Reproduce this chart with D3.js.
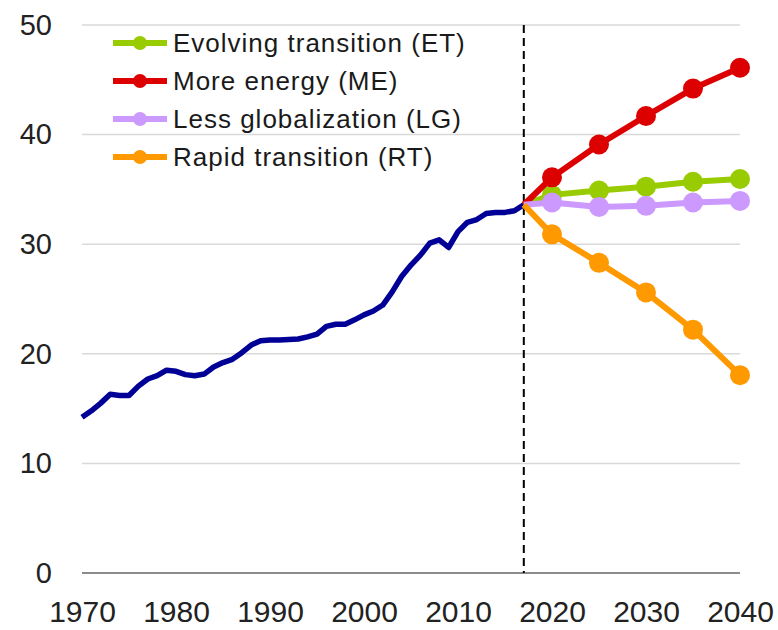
<!DOCTYPE html>
<html>
<head>
<meta charset="utf-8">
<script src="https://cdnjs.cloudflare.com/ajax/libs/d3/7.8.5/d3.min.js"></script>
<style>
	body { margin: 0; background: #ffffff; }
	svg { display: block; font-family: "Liberation Sans", Arial, sans-serif; }
</style>
</head>
<body>
<div id="chart"></div>
<script>
var historyYears = [1970, 1971, 1972, 1973, 1974, 1975, 1976, 1977, 1978, 1979,
	1980, 1981, 1982, 1983, 1984, 1985, 1986, 1987, 1988, 1989,
	1990, 1991, 1992, 1993, 1994, 1995, 1996, 1997, 1998, 1999,
	2000, 2001, 2002, 2003, 2004, 2005, 2006, 2007, 2008, 2009,
	2010, 2011, 2012, 2013, 2014, 2015, 2016, 2017];
var historyValues = [14.2, 14.8, 15.5, 16.3, 16.2, 16.2, 17.05, 17.7, 18.0, 18.5,
	18.4, 18.1, 18.0, 18.15, 18.8, 19.2, 19.5, 20.1, 20.8, 21.2,
	21.25, 21.25, 21.3, 21.35, 21.55, 21.8, 22.5, 22.7, 22.7, 23.1,
	23.55, 23.9, 24.45, 25.65, 27.05, 28.1, 29.0, 30.1, 30.4, 29.7,
	31.15, 32.0, 32.25, 32.8, 32.9, 32.9, 33.05, 33.6];

var scenarioYears = [2017, 2020, 2025, 2030, 2035, 2040];
var etValues = [33.6, 34.5, 34.9, 35.25, 35.7, 35.95];
var meValues = [33.6, 36.1, 39.1, 41.7, 44.2, 46.1];
var lgValues = [33.6, 33.8, 33.4, 33.5, 33.8, 33.95];
var rtValues = [33.6, 30.9, 28.3, 25.6, 22.2, 18.05];

var seriesNames = ["Evolving transition (ET)", "More energy (ME)", "Less globalization (LG)", "Rapid transition (RT)"];
var seriesColors = ["#99cc00", "#dd0000", "#cc99ff", "#ff9900"];

var yTicks = [0, 10, 20, 30, 40, 50];
var xTicks = [1970, 1980, 1990, 2000, 2010, 2020, 2030, 2040];
var splitYear = 2017;

var width = 778, height = 630;
var x = d3.scaleLinear().domain([1970, 2040]).range([82, 740]);
var y = d3.scaleLinear().domain([0, 50]).range([573, 25]);

function drawGrid(svg) {
	svg.append("g").selectAll("line").data(yTicks.filter(function (d) { return d > 0; }))
		.enter().append("line")
		.attr("x1", x(1970)).attr("x2", x(2040))
		.attr("y1", function (d) { return y(d); }).attr("y2", function (d) { return y(d); })
		.attr("stroke", "#d9d9d9").attr("stroke-width", 1.5);
	svg.append("line")
		.attr("x1", x(1970)).attr("x2", x(2040))
		.attr("y1", y(0)).attr("y2", y(0))
		.attr("stroke", "#8c8c8c").attr("stroke-width", 2);
}

function drawAxes(svg) {
	var yAxis = d3.axisLeft(y).tickValues(yTicks).tickSize(0).tickPadding(0);
	var gy = svg.append("g").attr("transform", "translate(52,0)").call(yAxis);
	gy.select(".domain").remove();
	gy.selectAll("text").attr("font-size", 29).attr("fill", "#222222")
		.attr("font-family", "Liberation Sans, Arial, sans-serif");

	var xAxis = d3.axisBottom(x).tickValues(xTicks).tickFormat(d3.format("d")).tickSize(0).tickPadding(0);
	var gx = svg.append("g").attr("transform", "translate(0,601)").call(xAxis);
	gx.select(".domain").remove();
	gx.selectAll("text").attr("font-size", 30).attr("fill", "#222222")
		.attr("font-family", "Liberation Sans, Arial, sans-serif");
}

function drawSplit(svg) {
	svg.append("line")
		.attr("x1", x(splitYear)).attr("x2", x(splitYear))
		.attr("y1", y(50)).attr("y2", y(0))
		.attr("stroke", "#000000").attr("stroke-width", 2)
		.attr("stroke-dasharray", "8,5");
}

function drawHistory(svg) {
	var line = d3.line()
		.x(function (d, i) { return x(historyYears[i]); })
		.y(function (d) { return y(d); });
	svg.append("path").datum(historyValues)
		.attr("d", line).attr("fill", "none")
		.attr("stroke", "#000096").attr("stroke-width", 5.5)
		.attr("stroke-linejoin", "round");
}

function drawScenarios(svg) {
	var all = [etValues, meValues, lgValues, rtValues];
	var line = d3.line()
		.x(function (d, i) { return x(scenarioYears[i]); })
		.y(function (d) { return y(d); });
	for (var s = 0; s < all.length; s++) {
		var g = svg.append("g");
		g.append("path").datum(all[s])
			.attr("d", line).attr("fill", "none")
			.attr("stroke", seriesColors[s]).attr("stroke-width", 6)
			.attr("stroke-linejoin", "round");
		g.selectAll("circle").data(all[s].slice(1)).enter().append("circle")
			.attr("cx", function (d, i) { return x(scenarioYears[i + 1]); })
			.attr("cy", function (d) { return y(d); })
			.attr("r", 10).attr("fill", seriesColors[s]);
	}
}

function drawLegend(svg) {
	var legend = svg.append("g");
	var rows = legend.selectAll("g").data(seriesNames).enter().append("g")
		.attr("transform", function (d, i) { return "translate(113," + (43 + i * 38) + ")"; });
	rows.append("line").attr("x1", 0).attr("x2", 54).attr("y1", 0).attr("y2", 0)
		.attr("stroke", function (d, i) { return seriesColors[i]; }).attr("stroke-width", 6);
	rows.append("circle").attr("cx", 27).attr("cy", 0).attr("r", 7)
		.attr("fill", function (d, i) { return seriesColors[i]; });
	rows.append("text").attr("x", 60).attr("y", 0).attr("dy", "0.36em")
		.attr("font-size", 26).attr("letter-spacing", 1).attr("fill", "#1a1a1a")
		.text(function (d) { return d; });
}

function createChart(div) {
	try {
		var svg = d3.select("#" + div).append("svg")
			.attr("width", width).attr("height", height);
		drawGrid(svg);
		drawSplit(svg);
		drawAxes(svg);
		drawHistory(svg);
		drawScenarios(svg);
		drawLegend(svg);
		return svg;
	} catch (error) {
		throw "Function :: createChart Error: " + error;
	}
}

createChart("chart");
</script>
</body>
</html>
